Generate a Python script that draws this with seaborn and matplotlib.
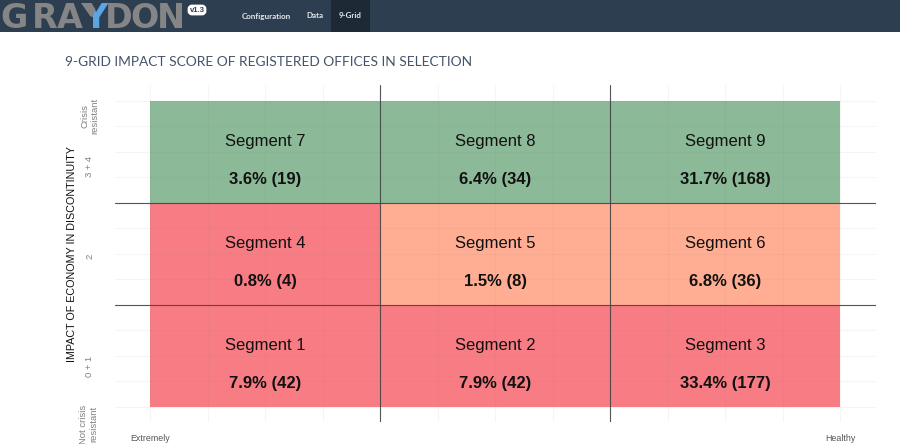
import numpy as np
import matplotlib
matplotlib.use("Agg")
import matplotlib.pyplot as plt
from matplotlib.colors import ListedColormap
from matplotlib.patches import Rectangle, FancyBboxPatch, Polygon
import seaborn as sns

# --- data ---
segments = ["Segment 1", "Segment 2", "Segment 3",
            "Segment 4", "Segment 5", "Segment 6",
            "Segment 7", "Segment 8", "Segment 9"]
percents = [7.9, 7.9, 33.4, 0.8, 1.5, 6.8, 3.6, 6.4, 31.7]
counts = [42, 42, 177, 4, 8, 36, 19, 34, 168]
risk_levels = [0, 0, 0, 0, 1, 1, 2, 2, 2]
palette = ["#f87c84", "#ffae93", "#8cb997"]
y_tick_pos = [0.40, 1.48, 2.36, 2.85]
y_tick_labels = ["0 + 1", "2", "3 + 4", "Crisis\nresistant"]
x_tick_pos = [0, 3]
x_tick_labels = ["Extremely", "Healthy"]
title = "9-GRID IMPACT SCORE OF REGISTERED OFFICES IN SELECTION"
ylabel = "IMPACT OF ECONOMY IN DISCONTINUITY"
nav_items = ["Configuration", "Data", "9-Grid"]
nav_x = [266, 314.5, 350.5]
logo_letters = ["G", "R", "A", "Y", "D", "O", "N"]
logo_x = [14.5, 45, 70, 95, 119, 144.5, 171]

W, H = 900, 444
UY = 102.0
GREY_LOGO = "#858585"
sns.set_theme(style="white")
plt.rcParams["font.family"] = ["Liberation Sans", "DejaVu Sans"]
fig = plt.figure(figsize=(W / 100, H / 100), dpi=100)
fig.patch.set_facecolor("white")

ax = fig.add_axes([115 / W, (H - 422) / H, 761 / W, 337 / H])
matrix = np.array(risk_levels).reshape(3, 3)
sns.heatmap(matrix, ax=ax, cmap=ListedColormap(palette), vmin=-0.5, vmax=2.5,
            cbar=False, square=False, linewidths=0)

minor = np.arange(0, 3.01, 0.25)
ax.set_axisbelow(False)
for v in minor:
    ax.axvline(v, color="#7f7f7f", alpha=0.07, lw=0.8, zorder=3)
    ax.axhline(v, color="#7f7f7f", alpha=0.07, lw=0.8, zorder=3)
for v in (1, 2):
    ax.axvline(v, color="#444444", lw=0.8, alpha=0.9, zorder=4)
    ax.axhline(v, color="#444444", lw=0.8, alpha=0.9, zorder=4)

for i, (s, p, c) in enumerate(zip(segments, percents, counts)):
    col, row = i % 3, i // 3
    ax.text(col + 0.5, row + 0.605, s, ha="center", va="center",
            fontsize=12, color="#111111", zorder=5)
    ax.text(col + 0.5, row + 0.228, f"{p}% ({c})", ha="center", va="center",
            fontsize=12, fontweight="bold", color="#111111", zorder=5)

ax.set_xticks(x_tick_pos)
ax.set_xticklabels(x_tick_labels, rotation=0, fontsize=6.4, color="#555555")
ax.set_yticks(y_tick_pos)
ax.set_yticklabels(y_tick_labels, rotation=90, fontsize=6.8, color="#808080",
                   va="center", ha="center", multialignment="center")
ax.tick_params(axis="x", length=0, pad=8.5)
ax.tick_params(axis="y", length=0, pad=18)
ax.set_xlim(-35 / 230, 3 + 36 / 230)
ax.set_ylim(-15.3 / UY, 3 + 16 / UY)
for sp in ax.spines.values():
    sp.set_visible(False)
ax.set_xlabel("")
ax.set_ylabel("")


def px(x, y):
    return x / W, 1 - y / H


fig.text(*px(89, 424), "Not crisis\nresistant", rotation=90, ha="center", va="center",
         multialignment="center", fontsize=6.8, color="#808080")
fig.text(*px(72, 253.5), ylabel, rotation=90, ha="center", va="center",
         fontsize=7.75, color="#111111")
fig.text(*px(65, 62), title, ha="left", va="center", family="Lato",
         fontsize=9.87, color="#44546a")

fig.add_artist(Rectangle(px(0, 32), 1, 32 / H, transform=fig.transFigure,
                         facecolor="#2c3e50", edgecolor="none", zorder=1))
fig.add_artist(Rectangle(px(331, 32), 39 / W, 32 / H, transform=fig.transFigure,
                         facecolor="#1d2a36", edgecolor="none", zorder=2))
for label, x in zip(nav_items, nav_x):
    fig.text(*px(x, 16), label, ha="center", va="center", family="Lato",
             fontsize=5.8, fontweight="bold", color="#e6eaee", zorder=3)
for letter, x in zip(logo_letters, logo_x):
    fig.text(*px(x, 28), letter, ha="center", va="baseline", family="DejaVu Sans",
             fontsize=24, fontweight="bold",
             color="#5aa5e6" if letter == "Y" else GREY_LOGO, zorder=3)
# grey left arm of the logo's Y
arm = [px(81, 3), px(91.5, 3), px(95.5, 9.5), px(93, 16.5), px(90.5, 16.5)]
fig.add_artist(Polygon(arm, closed=True, transform=fig.transFigure,
                       facecolor=GREY_LOGO, edgecolor="none", zorder=4))

fig.add_artist(FancyBboxPatch((189, H - 14), 16, 8, boxstyle="round,pad=0,rounding_size=3",
                              transform=None, facecolor="white", edgecolor="white",
                              lw=2, zorder=3))
fig.text(*px(197, 10), "v1.3", ha="center", va="center", fontsize=5.6,
         fontweight="bold", color="#2c3e50", zorder=4)

fig.savefig("out.png", dpi=100)
